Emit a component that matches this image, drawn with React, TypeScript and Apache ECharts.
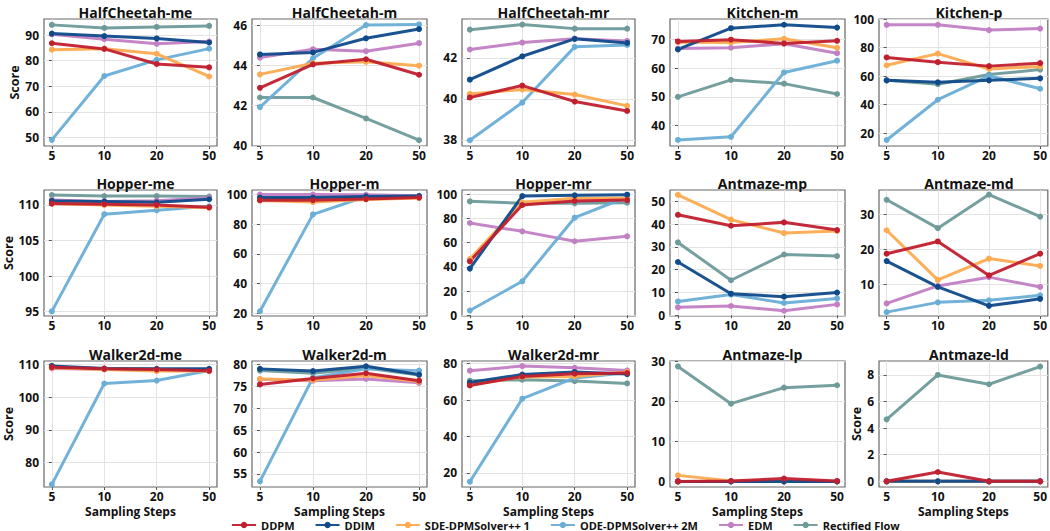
import React, { useEffect, useRef } from 'react';
import * as echarts from 'echarts';

const steps = ['5', '10', '20', '50'];
const methods = ['DDPM', 'DDIM', 'SDE-DPMSolver++ 1', 'ODE-DPMSolver++ 2M', 'EDM', 'Rectified Flow'];
const colors = ['#c11f2e', '#0f4a8a', '#fdaa50', '#6aaed6', '#c27fc4', '#6e9b9a'];

const titles = [
  'HalfCheetah-me', 'HalfCheetah-m', 'HalfCheetah-mr', 'Kitchen-m', 'Kitchen-p',
  'Hopper-me', 'Hopper-m', 'Hopper-mr', 'Antmaze-mp', 'Antmaze-md',
  'Walker2d-me', 'Walker2d-m', 'Walker2d-mr', 'Antmaze-lp', 'Antmaze-ld',
];

// values per panel, rows ordered as methods
const halfCheetahMe = [
  [86.8, 84.6, 78.7, 77.4],
  [90.6, 89.6, 88.7, 87.1],
  [84.3, 84.7, 82.7, 73.8],
  [49.0, 74.0, 80.3, 84.7],
  [90.3, 88.4, 86.6, 87.5],
  [94.0, 92.8, 93.2, 93.6],
];
const halfCheetahM = [
  [42.88, 44.05, 44.3, 43.53],
  [44.54, 44.64, 45.34, 45.8],
  [43.55, 44.1, 44.17, 43.98],
  [41.92, 44.35, 46.0, 46.03],
  [44.38, 44.8, 44.7, 45.1],
  [42.4, 42.4, 41.36, 40.28],
];
const halfCheetahMr = [
  [40.07, 40.65, 39.87, 39.41],
  [40.94, 42.08, 42.93, 42.73],
  [40.24, 40.46, 40.21, 39.66],
  [37.98, 39.82, 42.54, 42.63],
  [42.41, 42.75, 42.94, 42.83],
  [43.38, 43.63, 43.43, 43.43],
];
const kitchenM = [
  [69.3, 69.9, 68.6, 69.5],
  [66.5, 73.9, 75.1, 74.1],
  [69.0, 68.9, 70.2, 67.1],
  [35.0, 36.1, 58.5, 62.6],
  [66.8, 67.1, 68.5, 65.2],
  [50.0, 55.9, 54.6, 51.0],
];
const kitchenP = [
  [73.1, 69.8, 67.0, 69.1],
  [57.0, 55.6, 57.0, 58.4],
  [67.6, 75.8, 65.0, 66.7],
  [15.1, 43.4, 60.2, 51.1],
  [96.0, 96.0, 92.3, 93.4],
  [57.0, 54.3, 61.1, 64.6],
];
const hopperMe = [
  [110.19, 110.1, 110.0, 109.67],
  [110.56, 110.47, 110.37, 110.8],
  [110.2, 110.0, 109.8, 109.6],
  [95.05, 108.7, 109.25, 109.8],
  [110.7, 110.5, 110.6, 111.0],
  [111.4, 111.26, 111.26, 111.17],
];
const hopperM = [
  [96.0, 96.0, 96.8, 97.8],
  [97.8, 97.8, 98.6, 98.8],
  [95.8, 94.8, 96.5, 97.5],
  [21.4, 86.5, 98.5, 98.6],
  [99.8, 99.8, 99.7, 99.0],
  [97.0, 97.3, 97.8, 98.3],
];
const hopperMr = [
  [44.6, 91.2, 94.5, 95.3],
  [38.6, 98.6, 99.2, 99.7],
  [46.5, 93.4, 96.7, 96.7],
  [3.9, 28.1, 80.7, 97.8],
  [76.3, 69.4, 61.2, 65.3],
  [94.2, 92.6, 92.6, 93.1],
];
const antmazeMp = [
  [44.1, 39.3, 40.8, 37.4],
  [23.4, 9.5, 8.2, 10.0],
  [52.9, 42.0, 36.1, 37.0],
  [6.1, 9.1, 5.4, 7.4],
  [3.5, 4.1, 2.0, 4.8],
  [32.0, 15.4, 26.7, 26.0],
];
const antmazeMd = [
  [18.7, 22.2, 12.5, 18.7],
  [16.6, 9.2, 3.8, 5.8],
  [25.4, 11.2, 17.3, 15.2],
  [2.0, 4.8, 5.4, 6.8],
  [4.5, 9.5, 12.0, 9.2],
  [34.1, 26.0, 35.6, 29.3],
];
const walkerMe = [
  [109.2, 108.7, 108.5, 108.1],
  [109.6, 108.8, 108.7, 108.7],
  [109.0, 108.5, 108.0, 108.0],
  [73.3, 104.2, 105.1, 108.2],
  [108.8, 108.6, 108.5, 108.5],
  [109.3, 108.8, 108.6, 108.5],
];
const walkerM = [
  [75.45, 76.8, 78.0, 76.3],
  [79.0, 78.5, 79.6, 77.7],
  [76.7, 76.4, 77.5, 76.1],
  [53.3, 77.0, 79.0, 78.6],
  [76.6, 76.3, 76.7, 75.8],
  [78.6, 78.0, 79.2, 77.6],
];
const walkerMr = [
  [68.1, 73.0, 74.5, 74.9],
  [69.7, 74.1, 75.4, 74.3],
  [68.5, 72.7, 73.0, 75.5],
  [15.2, 60.8, 72.2, 75.0],
  [76.2, 78.7, 77.8, 76.3],
  [70.7, 71.2, 70.5, 69.2],
];
const antmazeLp = [
  [0.0, 0.1, 0.7, 0.1],
  [0.0, 0.0, 0.0, 0.0],
  [1.5, 0.1, 0.0, 0.0],
  [0.0, 0.0, 0.0, 0.0],
  [0.0, 0.0, 0.0, 0.0],
  [28.7, 19.4, 23.4, 24.0],
];
const antmazeLd = [
  [0.0, 0.7, 0.0, 0.0],
  [0.0, 0.0, 0.0, 0.0],
  [0.0, 0.0, 0.0, 0.0],
  [0.0, 0.0, 0.0, 0.0],
  [0.0, 0.0, 0.0, 0.0],
  [4.66, 8.0, 7.3, 8.63],
];

const panels = [
  halfCheetahMe, halfCheetahM, halfCheetahMr, kitchenM, kitchenP,
  hopperMe, hopperM, hopperMr, antmazeMp, antmazeMd,
  walkerMe, walkerM, walkerMr, antmazeLp, antmazeLd,
];

const yMin = [46.6, 39.99, 37.7, 32.9, 10.9, 94.4, 18.2, -0.6, -0.3, 0.9, 72.5, 52.0, 12.3, -1.4, -0.43];
const yMax = [96.3, 46.3, 43.9, 77.1, 100.1, 112.1, 102.9, 103.6, 55.0, 36.9, 111.1, 80.8, 81.5, 30.05, 9.05];
const yTicks = [
  [50, 60, 70, 80, 90], [40, 42, 44, 46], [38, 40, 42], [40, 50, 60, 70], [20, 40, 60, 80, 100],
  [95, 100, 105, 110], [20, 40, 60, 80, 100], [0, 20, 40, 60, 80, 100], [0, 10, 20, 30, 40, 50], [10, 20, 30],
  [80, 90, 100, 110], [55, 60, 65, 70, 75, 80], [20, 40, 60, 80], [0, 10, 20, 30], [0, 2, 4, 6, 8],
];

const FONT = '"Open Sans", "Noto Sans", sans-serif';
const colLeft = [44, 252, 462, 670, 879];
const colWidth = [173, 175, 173, 175, 170];
const rowTop = [19, 190, 361];
const rowHeight = [127, 126, 126];

export default function App() {
  const ref = useRef<HTMLDivElement>(null);
  useEffect(() => {
    document.body.style.margin = '0';
    const chart = echarts.init(ref.current!, null, { renderer: 'svg' });
    const grids: any[] = [];
    const xAxes: any[] = [];
    const yAxes: any[] = [];
    const titleArr: any[] = [];
    const series: any[] = [];
    panels.forEach((panel, p) => {
      const r = Math.floor(p / 5);
      const c = p % 5;
      grids.push({
        left: colLeft[c], top: rowTop[r], width: colWidth[c], height: rowHeight[r],
        show: true, borderColor: '#666', borderWidth: 1.2, backgroundColor: 'transparent',
      });
      titleArr.push({
        text: titles[p], left: colLeft[c] + colWidth[c] / 2, top: rowTop[r] - 19, textAlign: 'center',
        textStyle: { fontFamily: FONT, fontWeight: 'bold', fontSize: 14, color: '#111' },
      });
      xAxes.push({
        type: 'value', gridIndex: p, min: -0.15, max: 3.15,
        axisLine: { show: false },
        axisTick: { show: true, customValues: [0, 1, 2, 3], length: 3, lineStyle: { color: '#555' } },
        axisLabel: {
          customValues: [0, 1, 2, 3], formatter: (v: number) => steps[Math.round(v)] ?? '',
          fontFamily: FONT, fontWeight: 'bold', fontSize: 12, lineHeight: 12, color: '#111', margin: 3,
        },
        splitLine: { show: true, lineStyle: { color: '#e3e3e3', width: 1 } },
        name: r === 2 ? 'Sampling Steps' : '', nameLocation: 'middle', nameGap: 18,
        nameTextStyle: { fontFamily: FONT, fontWeight: 'bold', fontSize: 12, lineHeight: 12, color: '#111' },
      });
      yAxes.push({
        type: 'value', gridIndex: p, min: yMin[p], max: yMax[p],
        axisLine: { show: false },
        axisTick: { show: true, customValues: yTicks[p], length: 3, lineStyle: { color: '#555' } },
        axisLabel: {
          customValues: yTicks[p], fontFamily: FONT, fontWeight: 'bold', fontSize: 12, color: '#111', margin: 5,
        },
        splitLine: { show: true, lineStyle: { color: '#e3e3e3', width: 1 } },
        name: c === 0 || p === 14 ? 'Score' : '', nameLocation: 'middle', nameGap: c === 0 ? 21 : 15,
        nameTextStyle: { fontFamily: FONT, fontWeight: 'bold', fontSize: 12.5, color: '#111' },
      });
      for (let m = methods.length - 1; m >= 0; m--) {
        series.push({
          type: 'line', name: methods[m], xAxisIndex: p, yAxisIndex: p,
          data: panel[m].map((v, i) => [i, v]),
          symbol: 'circle', symbolSize: 6,
          lineStyle: { width: 3, color: colors[m], opacity: 0.95 },
          itemStyle: { color: colors[m] },
          emphasis: { disabled: true },
        });
      }
    });
    chart.setOption({
      animation: false,
      title: titleArr,
      grid: grids,
      xAxis: xAxes,
      yAxis: yAxes,
      series,
      legend: {
        data: methods, left: 231, top: 519, padding: 0, itemWidth: 24, itemHeight: 8, itemGap: 20,
        textStyle: { fontFamily: FONT, fontWeight: 'bold', fontSize: 11, lineHeight: 12, color: '#111', padding: [0, 0, 0, 0] },
      },
    });
    return () => chart.dispose();
  }, []);
  return <div ref={ref} style={{ width: 1050, height: 531 }} />;
}
